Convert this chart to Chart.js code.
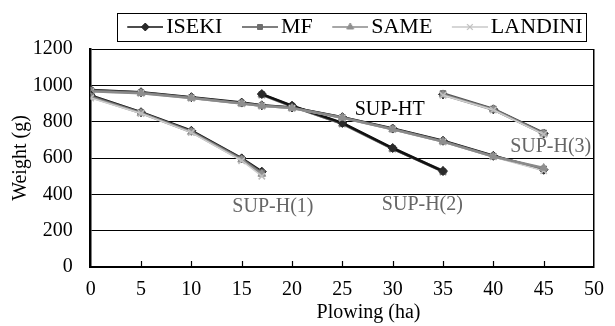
<!DOCTYPE html>
<html><head><meta charset="utf-8">
<script src="https://cdn.jsdelivr.net/npm/chart.js@4"></script>
<style>html,body{margin:0;padding:0;background:#fff}#wrap{width:615px;height:326px;position:relative}</style>
</head><body><div id="wrap"><canvas id="c"></canvas></div>
<script>
// ---- data ----
const seriesNames = ['ISEKI', 'MF', 'SAME', 'LANDINI'];

const xH1 = [0, 5, 10, 15, 17];
const xHT = [0, 5, 10, 15, 17, 20, 25, 30, 35, 40, 45];
const xH2 = [17, 20, 25, 30, 35];
const xH3 = [35, 40, 45];

const isekiH1   = [945, 852, 750, 598, 525];
const mfH1      = [940, 850, 746, 595, 518];
const sameH1    = [935, 847, 743, 590, 512];
const landiniH1 = [930, 845, 740, 585, 500];

const isekiHT   = [975, 962, 935, 905, 890, 878, 825, 762, 695, 612, 535];
const mfHT      = [972, 960, 932, 902, 888, 876, 823, 760, 692, 610, 540];
const sameHT    = [968, 957, 930, 900, 887, 875, 822, 758, 690, 608, 545];
const landiniHT = [965, 955, 928, 898, 885, 872, 820, 756, 688, 606, 530];

const isekiH2   = [952, 888, 793, 655, 528];
const mfH2      = [950, 886, 790, 652, 525];
const sameH2    = [948, 884, 788, 650, 530];
const landiniH2 = [945, 880, 785, 648, 522];

const isekiH3   = [950, 868, 735];
const mfH3      = [955, 870, 738];
const sameH3    = [948, 866, 733];
const landiniH3 = [945, 864, 730];

const xTickStep = 5, xMin = 0, xMax = 50;
const yTickStep = 200, yMin = 0, yMax = 1200;

const xTitle = 'Plowing (ha)', xTitleAt = 27.6;
const yTitle = 'Weight (g)';

const noteTexts = ['SUP-H(1)', 'SUP-HT', 'SUP-H(2)', 'SUP-H(3)'];
const noteX = [18.1, 29.7, 32.95, 45.7];
const noteY = [330, 864, 341, 660];

// ---- styles ----
const FONT = 'Liberation Serif';
Chart.defaults.font.family = FONT;
const styles = {
  ISEKI:   {line: '#111', point: '#2a2a2a', shape: 'rectRot', r: 4.5, w: 2.5},
  MF:      {line: '#555', point: '#6e6e6e', shape: 'rect', r: 4, w: 2.5},
  SAME:    {line: '#8a8a8a', point: '#8f8f8f', shape: 'triangle', r: 4.5, w: 2.5},
  LANDINI: {line: '#cfcfcf', point: '#bdbdbd', shape: 'crossRot', r: 4.5, w: 1.5}
};
const noteColors = ['#666', '#000', '#666', '#666'];

function ds(name, xs, ys) {
  const s = styles[name];
  return {
    label: name,
    data: xs.map((x, i) => ({x: x, y: ys[i]})),
    borderColor: s.line, backgroundColor: s.point,
    pointBorderColor: s.point, pointBackgroundColor: s.point,
    pointStyle: s.shape, pointRadius: s.r, pointBorderWidth: s.shape === 'crossRot' ? 1.5 : 1,
    borderWidth: s.w, tension: 0, fill: false
  };
}
// index 0 is drawn on top
const datasets = [
  ds('LANDINI', xH1, landiniH1), ds('SAME', xH1, sameH1), ds('MF', xH1, mfH1), ds('ISEKI', xH1, isekiH1),
  ds('SAME', xHT, sameHT), ds('LANDINI', xHT, landiniHT), ds('MF', xHT, mfHT), ds('ISEKI', xHT, isekiHT),
  ds('ISEKI', xH2, isekiH2), ds('MF', xH2, mfH2), ds('SAME', xH2, sameH2), ds('LANDINI', xH2, landiniH2),
  ds('LANDINI', xH3, landiniH3), ds('SAME', xH3, sameH3), ds('MF', xH3, mfH3), ds('ISEKI', xH3, isekiH3)
];

function legendIcon(name) {
  const s = styles[name];
  const c = document.createElement('canvas');
  c.width = 44; c.height = 14;
  const g = c.getContext('2d');
  g.strokeStyle = s.line === '#cfcfcf' ? '#c8c8c8' : s.line;
  g.lineWidth = 1.5;
  g.beginPath(); g.moveTo(8, 7); g.lineTo(44, 7); g.stroke();
  g.fillStyle = s.point; g.strokeStyle = s.point;
  g.lineWidth = s.shape === 'crossRot' ? 1.2 : 1;
  Chart.helpers.drawPoint(g, {pointStyle: s.shape, radius: s.r - 0.5, rotation: 0, borderWidth: g.lineWidth}, 26, 7);
  return c;
}
const icons = seriesNames.map(legendIcon);

const LEGEND_H = 52.5;
const LEGEND_SHIFT = 8;
const extras = {
  id: 'extras',
  afterInit(chart) {
    const lg = chart.legend;
    if (lg && !lg._patched) {
      const of = lg.fit;
      lg.fit = function () { of.call(this); this.height = LEGEND_H; };
      lg._patched = true;
    }
  },
  afterLayout(chart) {
    const lg = chart.legend;
    if (lg) { lg.left += LEGEND_SHIFT; lg.right += LEGEND_SHIFT; }
  },
  afterDraw(chart) {
    const ctx = chart.ctx;
    const xs = chart.scales.x, ys = chart.scales.y;
    ctx.save();
    // inward x tick marks
    ctx.strokeStyle = '#000'; ctx.lineWidth = 1.2;
    xs.ticks.forEach(t => {
      if (t.value <= xMin || t.value >= xMax) return;
      const px = Math.round(xs.getPixelForValue(t.value)) + 0.5;
      ctx.beginPath(); ctx.moveTo(px, ys.bottom); ctx.lineTo(px, ys.bottom - 6); ctx.stroke();
    });
    // x axis title (offset like the original)
    ctx.font = '20px ' + FONT;
    ctx.textAlign = 'center'; ctx.textBaseline = 'middle'; ctx.fillStyle = '#000';
    ctx.fillText(xTitle, xs.getPixelForValue(xTitleAt), xs.bottom - 13);
    // notes
    noteTexts.forEach((t, i) => {
      ctx.fillStyle = noteColors[i];
      ctx.fillText(t, xs.getPixelForValue(noteX[i]), ys.getPixelForValue(noteY[i]));
    });
    // legend frame
    const hb = chart.legend && chart.legend.legendHitBoxes;
    if (hb && hb.length) {
      const l = hb[0].left - 10, r = hb[hb.length - 1].left + hb[hb.length - 1].width + 4;
      const t = hb[0].top - 3, b = hb[0].top + hb[0].height + 3;
      ctx.strokeStyle = '#000'; ctx.lineWidth = 1;
      ctx.strokeRect(Math.round(l) + 0.5, Math.round(t) + 0.5, Math.round(r - l), Math.round(b - t));
    }
    ctx.restore();
  }
};

new Chart(document.getElementById('c'), {
  type: 'line',
  data: {datasets: datasets},
  options: {
    responsive: true, maintainAspectRatio: false, animation: false,
    devicePixelRatio: 1,
    layout: {padding: {top: -3.5, right: 12.3, bottom: 0, left: 0}},
    plugins: {
      tooltip: {enabled: false},
      legend: {
        display: true, position: 'top', fullSize: false, align: 'end',
        labels: {
          usePointStyle: true, pointStyleWidth: 28, boxWidth: 28, padding: 19.5,
          color: '#000', font: {family: FONT, size: 22},
          generateLabels: () => seriesNames.map((n, i) => ({
            text: n, pointStyle: icons[i], fillStyle: 'transparent', strokeStyle: 'transparent',
            lineWidth: 0, hidden: false, fontColor: '#000', datasetIndex: i
          }))
        },
        onClick: () => {}
      }
    },
    scales: {
      x: {
        type: 'linear', min: xMin, max: xMax,
        afterFit: s => { s.height = 59; },
        ticks: {stepSize: xTickStep, color: '#000', font: {family: FONT, size: 20}, padding: 11, maxRotation: 0,
                callback: v => String(v)},
        grid: {
          drawTicks: false,
          color: c => (c.tick && c.tick.value === xMax) ? '#000' : 'rgba(0,0,0,0)',
          lineWidth: 1.5
        },
        border: {color: '#000', width: 2},
        title: {display: false, text: xTitle}
      },
      y: {
        type: 'linear', min: yMin, max: yMax,
        afterFit: s => { s.width = 90.7; },
        ticks: {stepSize: yTickStep, color: '#000', font: {family: FONT, size: 20}, padding: 18,
                callback: v => String(v)},
        grid: {drawTicks: false, color: '#000', lineWidth: 1},
        border: {color: '#000', width: 2.5},
        title: {display: true, text: yTitle, color: '#000', font: {family: FONT, size: 20}, padding: {top: 9, bottom: 0}}
      }
    }
  },
  plugins: [extras]
});
</script>
</body></html>
